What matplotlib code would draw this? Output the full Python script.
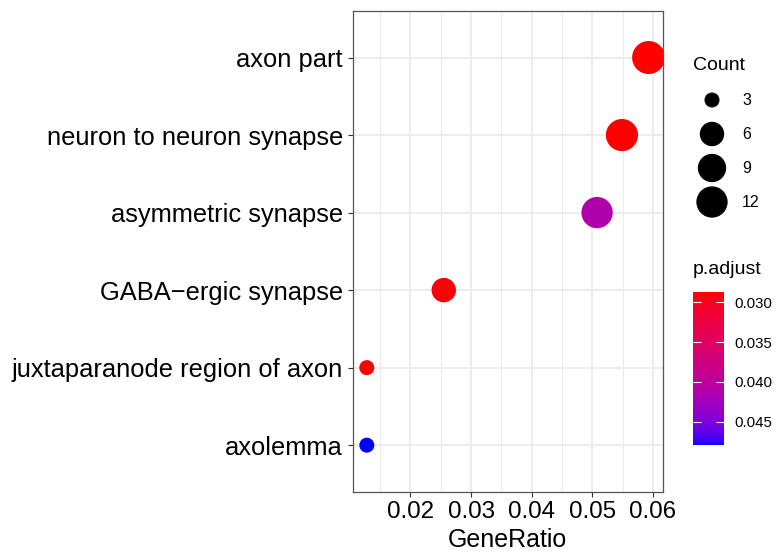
import numpy as np
import matplotlib
matplotlib.use('Agg')
import matplotlib.pyplot as plt
from matplotlib.colors import ListedColormap

plt.rcParams['font.family'] = ['Liberation Sans', 'DejaVu Sans']

# values (top row first)
terms = ['axon part', 'neuron to neuron synapse', 'asymmetric synapse',
         'GABA\u2212ergic synapse', 'juxtaparanode region of axon', 'axolemma']
gene_ratio = [0.0593, 0.0549, 0.0508, 0.0255, 0.0128, 0.0128]
counts = [14, 13, 12, 6, 3, 3]
p_adjust = [0.0287, 0.0287, 0.0412, 0.0290, 0.0287, 0.0479]

x_ticks = [0.02, 0.03, 0.04, 0.05, 0.06]
x_minor = [0.015, 0.025, 0.035, 0.045, 0.055]
legend_counts = [3, 6, 9, 12]
cbar_ticks = [0.030, 0.035, 0.040, 0.045]
cbar_labels = ['0.030', '0.035', '0.040', '0.045']

DPI = 100
W, H = 777, 554

# red -> blue gradient interpolated in Lab space (like ggplot)
M = np.array([[0.4124, 0.3576, 0.1805],
              [0.2126, 0.7152, 0.0722],
              [0.0193, 0.1192, 0.9505]])
WHITE = np.array([0.95047, 1.0, 1.08883])


def srgb_to_lab(c):
    c = np.asarray(c, float)
    lin = np.where(c <= 0.04045, c / 12.92, ((c + 0.055) / 1.055) ** 2.4)
    xyz = M @ lin / WHITE
    f = np.where(xyz > 0.008856, np.cbrt(xyz), 7.787 * xyz + 16 / 116)
    return np.array([116 * f[1] - 16, 500 * (f[0] - f[1]), 200 * (f[1] - f[2])])


def lab_to_srgb(lab):
    L, a, b = lab
    fy = (L + 16) / 116
    f = np.array([fy + a / 500, fy, fy - b / 200])
    xyz = np.where(f ** 3 > 0.008856, f ** 3, (f - 16 / 116) / 7.787) * WHITE
    lin = np.clip(np.linalg.inv(M) @ xyz, 0, 1)
    c = np.where(lin <= 0.0031308, 12.92 * lin, 1.055 * lin ** (1 / 2.4) - 0.055)
    return np.clip(c, 0, 1)


lab_lo = srgb_to_lab([1, 0, 0])
lab_hi = srgb_to_lab([0, 0, 1])
cmap = ListedColormap([lab_to_srgb(lab_lo + t * (lab_hi - lab_lo)) for t in np.linspace(0, 1, 256)])


def dot_size(c):
    # diameter in px grows with sqrt of count, returned as points^2
    d = 15 + 18 * np.sqrt((np.asarray(c, float) - 3) / 11)
    return (d * 72 / DPI) ** 2


fig = plt.figure(figsize=(W / DPI, H / DPI), dpi=DPI)
ax = fig.add_axes([352.7 / W, 1 - 491.7 / H, 310 / W, 480.7 / H])

y_pos = np.arange(len(terms))[::-1]
sc = ax.scatter(gene_ratio, y_pos, s=dot_size(counts), c=p_adjust, cmap=cmap,
                vmin=min(p_adjust), vmax=max(p_adjust), linewidths=0, zorder=3)

lo, hi = min(gene_ratio), max(gene_ratio)
pad = 0.05 * (hi - lo)
ax.set_xlim(lo - pad, hi + pad)
ax.set_ylim(-0.6, len(terms) - 0.4)
ax.set_xticks(x_ticks)
ax.set_xticklabels([f'{v:.2f}' for v in x_ticks])
ax.set_xticks(x_minor, minor=True)
ax.set_yticks(y_pos)
ax.set_yticklabels(terms)

ax.grid(which='major', color='#EBEBEB', lw=1.3, zorder=0)
ax.grid(which='minor', axis='x', color='#EBEBEB', lw=0.7, zorder=0)
ax.set_axisbelow(True)
for s in ax.spines.values():
    s.set_color('#555555')
    s.set_linewidth(0.9)

ax.tick_params(axis='both', which='major', length=3.4, width=0.8, color='#333333',
               pad=3.6, labelcolor='black')
ax.tick_params(axis='y', labelsize=18.4)
ax.tick_params(axis='x', labelsize=17.4)
ax.tick_params(which='minor', length=0)
ax.set_xlabel('GeneRatio', fontsize=18, labelpad=3)

# size legend
fig.text(693 / W, 1 - 66 / H, 'Count', fontsize=14, va='center', ha='left')
leg = fig.add_axes([692 / W, 1 - 219 / H, 85 / W, 136 / H])
leg.set_xlim(0, 85)
leg.set_ylim(len(legend_counts) - 0.5, -0.5)
leg.axis('off')
leg.scatter([20] * len(legend_counts), range(len(legend_counts)),
            s=dot_size(legend_counts), color='black', linewidths=0)
for i, c in enumerate(legend_counts):
    leg.text(50, i, str(c), fontsize=11.5, va='center', ha='left')

# colour bar
fig.text(693 / W, 1 - 270 / H, 'p.adjust', fontsize=14, va='center', ha='left')
cax = fig.add_axes([692.7 / W, 1 - 445 / H, 31.6 / W, 153.3 / H])
cb = fig.colorbar(sc, cax=cax)
cb.outline.set_visible(False)
cax.invert_yaxis()
cb.set_ticks(cbar_ticks)
cb.set_ticklabels(cbar_labels)
cax.tick_params(direction='in', length=6, width=0.8, color='white', left=True, right=True,
                labelsize=10.8, pad=7.5, labelcolor='black')
cax.minorticks_off()

fig.savefig('out.png', dpi=DPI)
